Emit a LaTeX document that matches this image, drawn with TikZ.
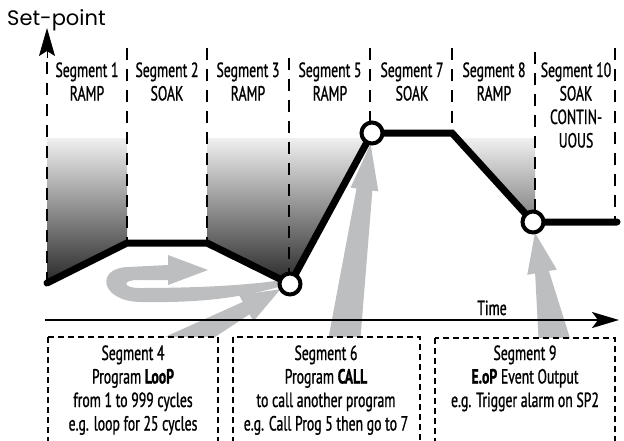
\documentclass[tikz,border=0pt]{standalone}
\usepackage{fontspec}
\setmainfont{PT Sans}
\newfontfamily\condfont[FakeStretch=0.67, FakeBold=1]{PT Sans}
\newfontfamily\setptfont{Poppins}
\usetikzlibrary{arrows.meta, calc}

\definecolor{arrowgray}{HTML}{BCBEC0}

% wide gray arrow: base, tip, base half width, shaft half width, head half width, head length
\newcommand{\fatarrow}[6]{%
  \coordinate (fa) at ($(#2)!#6!(#1)$);
  \fill[arrowgray] ($(#1)!#3!90:(#2)$) -- ($(fa)!#4!90:(#2)$) -- ($(fa)!#5!90:(#2)$) -- (#2)
    -- ($(fa)!#5!-90:(#2)$) -- ($(fa)!#4!-90:(#2)$) -- ($(#1)!#3!-90:(#2)$) -- cycle;
}

\begin{document}
\begin{tikzpicture}[
    x=1pt, y=1pt,
    seglabel/.style={font=\condfont\fontsize{20.5}{23.5}\selectfont, align=center, inner sep=0pt, anchor=base},
    divider/.style={dash pattern=on 12pt off 9pt, line width=2.6pt},
    profile/.style={line width=7pt, line cap=round},
    setpt/.style={circle, draw, line width=4pt, fill=white, minimum size=21pt, inner sep=0pt},
    progbox/.style={draw, fill=white, line width=2.4pt, dash pattern=on 6pt off 4pt},
    timeaxis/.style={line width=2pt, -{Stealth[length=27pt, width=16pt, inset=6pt]}}
]
\useasboundingbox (0,0) rectangle (624,-440);
\clip (0,0) rectangle (624,-440);

% --- Profile points ---
\coordinate (p0) at (47,-283);
\coordinate (p1) at (127,-243);
\coordinate (p2) at (207,-243);
\coordinate (p3) at (290,-284);
\coordinate (p4) at (372,-133);
\coordinate (p5) at (452,-133);
\coordinate (p6) at (533,-222);
\coordinate (p7) at (617,-222);

% --- Shading of the ramps ---
\begin{scope}
  \clip (47,-138) -- (127,-138) -- (p1) -- (p0) -- cycle
        (207,-138) -- (369,-138) -- (p3) -- (p2) -- cycle
        (456,-138) -- (535,-138) -- (535,-222) -- cycle;
  \shade[top color=black!6, bottom color=black!88] (40,-138) rectangle (540,-290);
\end{scope}

% --- Segment dividers ---
\foreach \xd/\yt/\yb in {47/62/283, 127/48/243, 207/48/243, 289/58/284,
                         370/48/121, 452/48/133, 535/52/222, 615/48/222}
  \draw[divider] (\xd,-\yt) -- (\xd,-\yb);

% --- Vertical axis tip ---
\coordinate (yfoot) at (47,-58);
\coordinate (ytop) at (47,-28);
\draw[line width=0.8pt, -{Stealth[length=28pt, width=16pt, inset=5pt]}] (yfoot) -- (ytop);
\node[font=\setptfont\fontsize{21}{24}\selectfont, anchor=base west, inner sep=0pt] (setpoint) at (7,-25) {Set-point};

% --- Gray arrows ---
\fill[arrowgray] (282,-286) .. controls (240,-298) and (200,-303) .. (140,-302)
  .. controls (100,-301) and (95,-268) .. (128,-267) -- (168,-265) -- (168,-255)
  -- (208,-270) -- (168,-285) -- (168,-280) -- (138,-280)
  .. controls (122,-280) and (122,-288) .. (140,-288)
  .. controls (200,-288) and (250,-285) .. (282,-280) -- cycle;

\coordinate (b4) at (170,-350);
\coordinate (b6) at (343,-350);
\coordinate (b9) at (556,-350);
\coordinate (t4) at ($(p3)!11pt!(b4)$);
\coordinate (t6) at ($(p4)!11pt!(b6)$);
\coordinate (t9) at ($(p6)!11pt!(b9)$);
\fatarrow{b4}{t4}{14pt}{7pt}{15pt}{39pt}
\fatarrow{b6}{t6}{16.5pt}{8pt}{14pt}{46pt}
\fatarrow{b9}{t9}{17pt}{7pt}{15pt}{40pt}

% --- Set-point profile ---
\draw[profile] (p0) -- (p1) -- (p2) -- (p3) -- (p4) -- (p5) -- (p6) -- (p7);
\node[setpt] (loopend) at (p3) {};
\node[setpt] (callpt) at (p4) {};
\node[setpt] (eventpt) at (p6) {};

% --- Time axis ---
\coordinate (tstart) at (45,-320);
\coordinate (tend) at (619,-320);
\draw[timeaxis] (tstart) -- (tend);
\node[seglabel] (time) at (492,-315) {Time};

% --- Program boxes ---
\draw[progbox] (48,-337) rectangle (218,-470);
\draw[progbox] (233,-337) rectangle (420,-470);
\draw[progbox] (435,-338) rectangle (615,-470);

% --- Segment labels (anchored at the last line) ---
\foreach \xc/\yc/\txt/\nm in {87/100.5/{Segment 1\\RAMP}/seg1, 167/100.5/{Segment 2\\SOAK}/seg2,
                              248/100.5/{Segment 3\\RAMP}/seg3, 330/100.5/{Segment 5\\RAMP}/seg5,
                              412/100.5/{Segment 7\\SOAK}/seg7, 494/100.5/{Segment 8\\RAMP}/seg8,
                              576/147.5/{Segment 10\\SOAK\\CONTIN-\\UOUS}/seg10}
  \node[seglabel] (\nm) at (\xc,-\yc) {\txt};

\node[seglabel] (seg4) at (133,-430.5) {Segment 4\\Program \textbf{LooP}\\from 1 to 999 cycles\\e.g. loop for 25 cycles};
\node[seglabel] (seg6) at (326,-430.5) {Segment 6\\Program \textbf{CALL}\\to call another program\\e.g. Call Prog 5 then go to 7};
\node[seglabel] (seg9) at (525,-407) {Segment 9\\\textbf{E.oP} Event Output\\e.g. Trigger alarm on SP2};

\end{tikzpicture}
\end{document}
